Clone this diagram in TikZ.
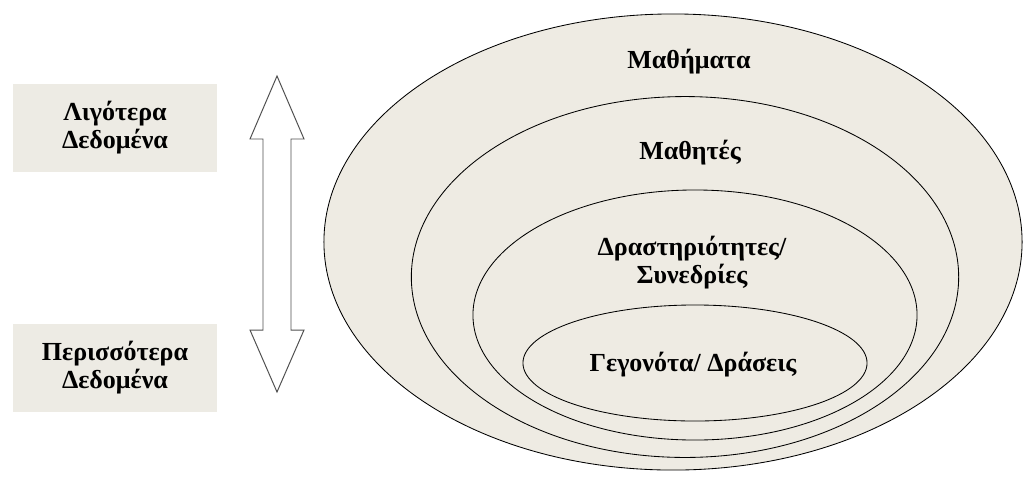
\documentclass[tikz,border=0pt]{standalone}
\usepackage{fontspec}
\setmainfont{Liberation Serif}
\definecolor{sand}{RGB}{238,235,227}
\definecolor{sandbox}{RGB}{237,235,228}
\definecolor{arrowgray}{RGB}{80,80,80}

\begin{document}
\begin{tikzpicture}[x=0.025cm, y=-0.025cm,
    lbl/.style={font=\bfseries\fontsize{18.5}{20}\selectfont, align=center, inner sep=0pt},
    sidebox/.style={lbl, fill=sandbox, minimum width=5.1cm, minimum height=2.175cm},
    ring/.style={fill=sand, draw=black, line width=0.6pt}]
    \useasboundingbox (0,0) rectangle (1026,476);

    \draw[ring] (673,242) ellipse [x radius=8.725cm, y radius=5.7cm];
    \draw[ring] (685,277) ellipse [x radius=6.84cm, y radius=4.51cm];
    \draw[ring] (695,315) ellipse [x radius=5.55cm, y radius=3.125cm];
    \draw[ring] (695,363) ellipse [x radius=4.3cm, y radius=1.45cm];

    \node[lbl] (courses) at (689,62) {Μαθήματα};
    \node[lbl] (students) at (690,153) {Μαθητές};
    \node[lbl] (sessions) at (692,263) {Δραστηριότητες/\\Συνεδρίες};
    \node[lbl] (events) at (693,365) {Γεγονότα/ Δράσεις};

    \node[sidebox] (less) at (115,128) {Λιγότερα\\Δεδομένα};
    \node[sidebox] (more) at (115,368) {Περισσότερα\\Δεδομένα};

    % double block arrow between the two side boxes
    \draw[draw=arrowgray, fill=white, line width=0.7pt, line join=miter]
        (277,76) -- (304,139) -- (291,139) -- (291,330) -- (304,330)
        -- (277,392) -- (250,330) -- (263,330) -- (263,139) -- (250,139) -- cycle;
\end{tikzpicture}
\end{document}
